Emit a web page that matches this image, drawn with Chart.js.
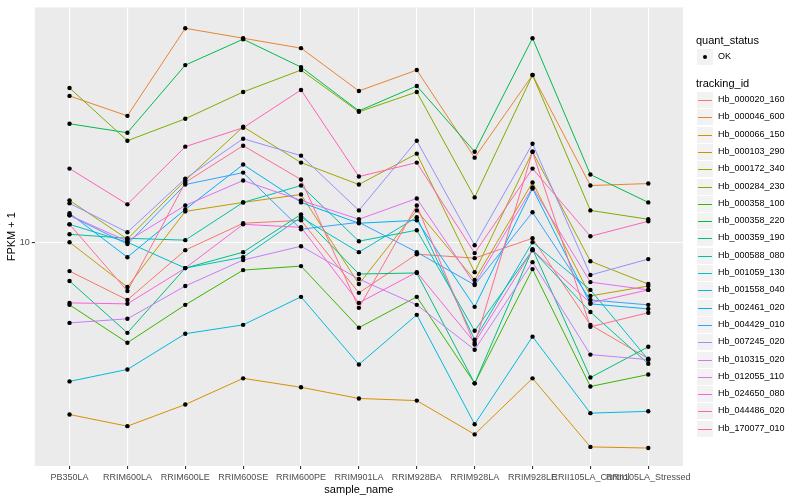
<!DOCTYPE html>
<html>
<head>
<meta charset="utf-8">
<script src="https://cdn.jsdelivr.net/npm/chart.js@4.4.1/dist/chart.umd.min.js"></script>
<style>
  body { margin: 0; background: #fff; }
  #wrap { position: relative; width: 800px; height: 500px; }
  #legend { position: absolute; left: 696px; top: 0; font-family: "Liberation Sans", Arial, sans-serif; color: #000; }
  .ttl { position: absolute; left: 0; font-size: 11px; white-space: nowrap; }
  .row { position: absolute; left: 1px; height: 17px; width: 100px; }
  .key { position: absolute; left: 0; top: 0; width: 16px; height: 16px; background: #F2F2F2; }
  .key .ln { position: absolute; left: 1px; top: 8px; width: 14px; height: 1px; }
  .key .dot { position: absolute; left: 6px; top: 6px; width: 4px; height: 4px; border-radius: 2px; background: #000; }
  .lab { position: absolute; left: 21px; top: 2px; font-size: 9px; white-space: nowrap; }
</style>
</head>
<body>
<div id="wrap">
  <canvas id="chart" width="800" height="500"></canvas>
  <div id="legend"></div>
</div>
<script>
const FONT = '"Liberation Sans", Arial, sans-serif';

const sampleNames = ["PB350LA", "RRIM600LA", "RRIM600LE", "RRIM600SE", "RRIM600PE", "RRIM901LA",
  "RRIM928BA", "RRIM928LA", "RRIM928LE", "RRII105LA_Control", "RRII105LA_Stressed"];

// FPKM + 1 per sample
const hb_000020_160 = [8.46, 7.16, 9.55, 11.16, 11.35, 7.46, 9.33, 9.12, 10.23, 6.20, 5.10];
const hb_000046_600 = [23.31, 20.77, 34.47, 32.55, 30.73, 23.99, 27.07, 16.31, 26.30, 13.88, 14.04];
const hb_000066_150 = [3.69, 3.45, 3.91, 4.55, 4.32, 4.05, 4.00, 3.29, 4.55, 3.06, 3.04];
const hb_000103_290 = [10.00, 7.72, 11.95, 12.59, 13.18, 7.85, 12.02, 8.04, 14.13, 7.33, 7.76];
const hb_000172_340 = [12.74, 10.18, 14.29, 19.50, 15.85, 13.96, 16.69, 8.41, 16.88, 8.96, 7.85];
const hb_000284_230 = [24.41, 17.99, 20.42, 23.85, 27.07, 21.26, 23.85, 12.96, 26.30, 12.02, 11.42];
const hb_000358_100 = [6.96, 5.59, 6.96, 8.51, 8.71, 6.10, 7.29, 4.42, 8.56, 4.34, 4.65];
const hb_000358_220 = [19.84, 18.84, 27.86, 32.36, 27.54, 21.38, 24.69, 16.88, 32.55, 14.79, 12.59];
const hb_000359_190 = [7.99, 5.92, 8.61, 9.44, 11.75, 8.32, 8.37, 4.42, 9.61, 4.57, 5.46];
const hb_000588_080 = [10.47, 10.23, 10.12, 12.59, 13.88, 10.06, 10.72, 5.99, 9.55, 6.68, 4.95];
const hb_001059_130 = [11.09, 10.00, 8.61, 9.17, 11.55, 9.44, 11.55, 5.69, 10.00, 7.59, 5.07];
const hb_001558_040 = [4.47, 4.79, 5.89, 6.20, 7.29, 4.93, 6.57, 3.49, 5.79, 3.72, 3.76];
const hb_002461_020 = [11.82, 9.17, 12.09, 15.67, 12.59, 11.16, 11.35, 6.88, 13.65, 7.00, 6.80];
const hb_004429_010 = [11.68, 9.89, 13.96, 14.96, 10.78, 11.22, 9.44, 7.81, 11.89, 7.16, 6.96];
const hb_007245_020 = [12.52, 10.59, 14.45, 18.20, 16.50, 12.02, 17.99, 9.83, 17.68, 8.27, 9.07];
const hb_010315_020 = [6.27, 6.42, 7.76, 9.02, 9.77, 8.08, 6.96, 5.37, 8.91, 5.22, 5.07];
const hb_012055_110 = [11.68, 10.06, 12.37, 14.29, 12.74, 11.42, 12.88, 7.85, 13.73, 7.94, 7.59];
const hb_024650_080 = [7.04, 7.00, 8.61, 11.09, 10.90, 7.04, 8.41, 5.59, 9.55, 7.04, 7.59];
const hb_044486_020 = [15.31, 12.45, 17.38, 19.39, 24.13, 14.62, 15.85, 9.39, 15.31, 10.35, 11.29];
const hb_170077_010 = [11.09, 7.54, 14.13, 17.48, 14.37, 6.84, 12.37, 5.53, 16.88, 6.13, 6.65];

const trackingIds = ["Hb_000020_160", "Hb_000046_600", "Hb_000066_150", "Hb_000103_290", "Hb_000172_340",
  "Hb_000284_230", "Hb_000358_100", "Hb_000358_220", "Hb_000359_190", "Hb_000588_080", "Hb_001059_130",
  "Hb_001558_040", "Hb_002461_020", "Hb_004429_010", "Hb_007245_020", "Hb_010315_020", "Hb_012055_110",
  "Hb_024650_080", "Hb_044486_020", "Hb_170077_010"];
const series = [hb_000020_160, hb_000046_600, hb_000066_150, hb_000103_290, hb_000172_340,
  hb_000284_230, hb_000358_100, hb_000358_220, hb_000359_190, hb_000588_080, hb_001059_130,
  hb_001558_040, hb_002461_020, hb_004429_010, hb_007245_020, hb_010315_020, hb_012055_110,
  hb_024650_080, hb_044486_020, hb_170077_010];
const colors = ["#F8766D", "#EA8331", "#D89000", "#C09B00", "#A3A500", "#7CAE00", "#39B600", "#00BB4E",
  "#00BF7D", "#00C1A3", "#00BFC4", "#00BAE0", "#00B0F6", "#35A2FF", "#9590FF", "#C77CFF", "#E76BF3",
  "#FA62DB", "#FF62BC", "#FF6C91"];
const yTicks = [10];

const toPoints = (vals) => vals.map((v, i) => ({ x: i, y: v }));

const lineSets = series.map((vals, i) => ({
  label: trackingIds[i],
  data: toPoints(vals),
  borderColor: colors[i],
  borderWidth: 1,
  pointRadius: 0,
  fill: false,
  order: series.length - i + 1,
}));
const pointSets = series.map((vals, i) => ({
  label: trackingIds[i] + " OK",
  data: toPoints(vals),
  showLine: false,
  pointRadius: 2.2,
  pointBackgroundColor: "#000",
  pointBorderWidth: 0,
  order: 0,
}));

const panelBg = {
  id: "panelBg",
  beforeDraw(chart) {
    const { ctx, chartArea: a } = chart;
    ctx.save();
    ctx.fillStyle = "#EBEBEB";
    ctx.fillRect(a.left, a.top, a.right - a.left, a.bottom - a.top);
    ctx.restore();
  },
};

new Chart(document.getElementById("chart"), {
  type: "line",
  data: { datasets: lineSets.concat(pointSets) },
  plugins: [panelBg],
  options: {
    responsive: false,
    animation: false,
    devicePixelRatio: 1,
    layout: { padding: { top: 4, right: 117, bottom: 0, left: 0 } },
    plugins: { legend: { display: false }, tooltip: { enabled: false } },
    scales: {
      x: {
        type: "linear",
        min: -0.6,
        max: 10.6,
        afterBuildTicks: (s) => { s.ticks = sampleNames.map((_, i) => ({ value: i })); },
        afterFit: (s) => { s.height = 34; },
        ticks: {
          autoSkip: false, maxRotation: 0, minRotation: 0, padding: 3,
          color: "#4D4D4D", font: { family: FONT, size: 9 },
          callback: (v) => sampleNames[v],
        },
        grid: { color: "#fff", lineWidth: 1.1, tickColor: "#333", tickLength: 3 },
        border: { display: false },
        title: { display: true, text: "sample_name", color: "#000", font: { family: FONT, size: 11 }, padding: { top: 0, bottom: 3 } },
      },
      y: {
        type: "logarithmic",
        min: 2.74,
        max: 38.9,
        afterBuildTicks: (s) => { s.ticks = yTicks.map((v) => ({ value: v })); },
        afterFit: (s) => { s.width = 34.8; },
        ticks: { color: "#4D4D4D", font: { family: FONT, size: 9 }, padding: 2, callback: (v) => String(v) },
        grid: { color: "#fff", lineWidth: 1.1, tickColor: "#333", tickLength: 3 },
        border: { display: false },
        title: { display: true, text: "FPKM + 1", color: "#000", font: { family: FONT, size: 11 }, padding: { top: 5, bottom: 0 } },
      },
    },
  },
});

// legend, ggplot style
const legend = document.getElementById("legend");
let html = '<div class="ttl" style="top:34px">quant_status</div>';
html += '<div class="row" style="top:49px"><div class="key"><div class="dot"></div></div><div class="lab">OK</div></div>';
html += '<div class="ttl" style="top:77px">tracking_id</div>';
trackingIds.forEach((id, i) => {
  const top = Math.round(92 + i * 17.3);
  html += '<div class="row" style="top:' + top + 'px"><div class="key"><div class="ln" style="background:' +
    colors[i] + '"></div></div><div class="lab">' + id + '</div></div>';
});
legend.innerHTML = html;
</script>
</body>
</html>
